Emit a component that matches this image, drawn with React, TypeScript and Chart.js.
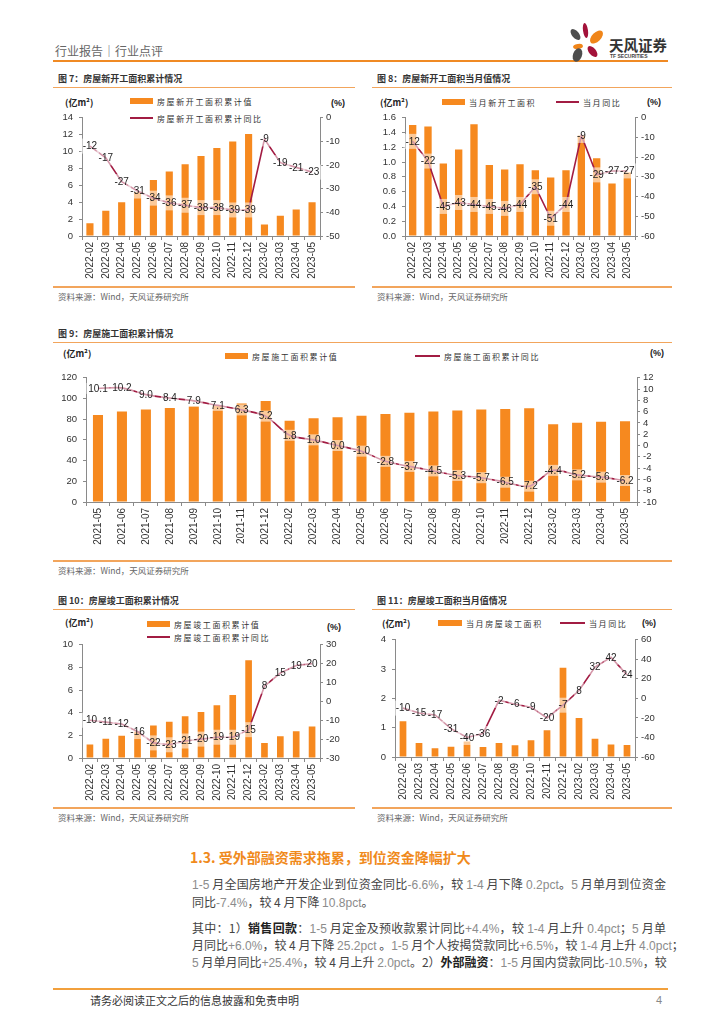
import React, { useEffect, useRef } from "react";
import { Chart, registerables } from "chart.js";

Chart.register(...registerables);

// ---------------- data ----------------
const months15 = [
  "2022-02", "2022-03", "2022-04", "2022-05", "2022-06", "2022-07", "2022-08",
  "2022-09", "2022-10", "2022-11", "2022-12", "2023-02", "2023-03", "2023-04", "2023-05",
];
const months23 = [
  "2021-05", "2021-06", "2021-07", "2021-08", "2021-09", "2021-10", "2021-11", "2021-12",
  "2022-02", "2022-03", "2022-04", "2022-05", "2022-06", "2022-07", "2022-08", "2022-09",
  "2022-10", "2022-11", "2022-12", "2023-02", "2023-03", "2023-04", "2023-05",
];

// 图7 房屋新开工面积累计
const newStartCumValue = [1.5, 2.98, 3.98, 5.18, 6.62, 7.63, 8.5, 9.47, 10.4, 11.17, 12.06, 1.36, 2.41, 3.15, 3.98];
const newStartCumYoY = [-12, -17, -27, -31, -34, -36, -37, -38, -38, -39, -39, -9, -19, -21, -23];

// 图8 房屋新开工面积当月值
const newStartMonthValue = [1.5, 1.48, 0.98, 1.17, 1.51, 0.96, 0.9, 0.97, 0.89, 0.79, 0.89, 1.36, 1.05, 0.71, 0.86];
const newStartMonthYoY = [-12, -22, -45, -43, -44, -45, -46, -44, -35, -51, -44, -9, -29, -27, -27];

// 图9 房屋施工面积累计
const underConstValue = [
  83.98, 87.33, 89.26, 90.8, 92.09, 93.48, 95.03, 97.54,
  78.37, 80.75, 81.85, 83.21, 84.86, 86.19, 87.38, 88.34, 89.18, 89.89, 90.5,
  74.95, 76.52, 77.37, 77.95,
];
const underConstYoY = [
  10.1, 10.2, 9.0, 8.4, 7.9, 7.1, 6.3, 5.2,
  1.8, 1.0, 0.0, -1.0, -2.8, -3.7, -4.5, -5.3, -5.7, -6.5, -7.2,
  -4.4, -5.2, -5.6, -6.2,
];

// 图10 房屋竣工面积累计
const completedCumValue = [1.2, 1.69, 1.97, 2.33, 2.86, 3.2, 3.69, 4.07, 4.65, 5.57, 8.62, 1.33, 1.93, 2.37, 2.77];
const completedCumYoY = [-10, -11, -12, -16, -22, -23, -21, -20, -19, -19, -15, 8, 15, 19, 20];

// 图11 房屋竣工面积当月值
const completedMonthValue = [1.22, 0.48, 0.3, 0.35, 0.53, 0.34, 0.48, 0.4, 0.57, 0.91, 3.04, 1.33, 0.62, 0.43, 0.41];
const completedMonthYoY = [-10, -15, -17, -31, -40, -36, -2, -6, -9, -20, -7, 8, 32, 42, 24];

// ---------------- style ----------------
const BAR = "#F6891F";
const LINE = "#A21C43";
const AXIS = "#8a8a8a";
const ORANGE_LINE = "#F2A55C";
const CJK = '"Noto Sans CJK SC", "Noto Sans", sans-serif';
const LAT = '"Liberation Sans", Arial, sans-serif';

type Spec = {
  left: number; top: number; width: number; height: number;
  plotLeft: number; plotRight: number; plotTop: number; plotBottom: number;
  labels: string[]; bars: number[]; line: number[];
  barName: string; lineName: string;
  yMin: number; yMax: number; yStep: number; yDec: number;
  y2Min: number; y2Max: number; y2Step: number;
  barPct: number; dec: number; tension: number;
  labelFont: number; boxH: number; padX: number;
};

const lineLabelPlugin = {
  id: "lineLabels",
  afterDatasetsDraw(chart: any, _args: any, opts: any) {
    const ctx = chart.ctx;
    chart.data.datasets.forEach((ds: any, i: number) => {
      if (ds.type !== "line") return;
      const meta = chart.getDatasetMeta(i);
      ctx.save();
      ctx.font = `${opts.fontSize}px ${LAT}`;
      ctx.textAlign = "center";
      ctx.textBaseline = "middle";
      meta.data.forEach((pt: any, j: number) => {
        const v = ds.data[j] as number;
        const txt = v.toFixed(opts.dec);
        const w = ctx.measureText(txt).width + opts.padX * 2;
        ctx.fillStyle = "rgba(255,255,255,0.55)";
        ctx.fillRect(pt.x - w / 2, pt.y - opts.boxH / 2, w, opts.boxH);
      });
      meta.data.forEach((pt: any, j: number) => {
        const v = ds.data[j] as number;
        const txt = v.toFixed(opts.dec);
        ctx.fillStyle = "#1e1e1e";
        ctx.fillText(txt, pt.x, pt.y + 0.5);
      });
      ctx.restore();
    });
  },
};

function buildConfig(s: Spec): any {
  const yW = s.plotLeft - s.left;
  const y2W = s.left + s.width - s.plotRight;
  const xH = s.top + s.height - s.plotBottom;
  const padTop = s.plotTop - s.top;
  const tickFont = { family: LAT, size: 9.5 };
  return {
    type: "bar",
    data: {
      labels: s.labels,
      datasets: [
        {
          type: "line",
          label: s.lineName,
          data: s.line,
          yAxisID: "y2",
          borderColor: LINE,
          borderWidth: 1.6,
          pointRadius: 0,
          tension: s.tension,
          order: 0,
        },
        {
          type: "bar",
          label: s.barName,
          data: s.bars,
          yAxisID: "y",
          backgroundColor: BAR,
          barPercentage: s.barPct,
          categoryPercentage: 1,
          order: 1,
        },
      ],
    },
    options: {
      responsive: false,
      animation: false,
      layout: { padding: { top: padTop, left: 0, right: 0, bottom: 0 } },
      plugins: {
        legend: { display: false },
        tooltip: { enabled: false },
        lineLabels: { dec: s.dec, fontSize: s.labelFont, boxH: s.boxH, padX: s.padX },
      },
      scales: {
        x: {
          type: "category",
          offset: true,
          grid: { offset: true, drawOnChartArea: false, drawTicks: true, tickLength: 4, color: AXIS },
          border: { display: true, color: AXIS },
          ticks: { minRotation: 90, maxRotation: 90, autoSkip: false, font: { family: LAT, size: 10 }, color: "#333", padding: 2 },
          afterFit: (sc: any) => { sc.height = xH; },
        },
        y: {
          position: "left",
          min: s.yMin,
          max: s.yMax,
          grid: { drawOnChartArea: false, drawTicks: true, tickLength: 3, color: AXIS },
          border: { display: true, color: AXIS },
          ticks: {
            stepSize: s.yStep,
            autoSkip: false,
            font: tickFont,
            color: "#333",
            padding: 6,
            callback: (v: any) => Number(v).toFixed(s.yDec),
          },
          afterFit: (sc: any) => { sc.width = yW; },
        },
        y2: {
          position: "right",
          min: s.y2Min,
          max: s.y2Max,
          grid: { drawOnChartArea: false, drawTicks: true, tickLength: 3, color: AXIS },
          border: { display: true, color: AXIS },
          ticks: {
            stepSize: s.y2Step,
            autoSkip: false,
            font: tickFont,
            color: "#333",
            padding: 3,
            callback: (v: any) => String(Math.round(Number(v))),
          },
          afterFit: (sc: any) => { sc.width = y2W; },
        },
      },
    },
    plugins: [lineLabelPlugin],
  };
}

function ChartBox({ spec }: { spec: Spec }) {
  const ref = useRef<HTMLCanvasElement>(null);
  useEffect(() => {
    const c = new Chart(ref.current as HTMLCanvasElement, buildConfig(spec));
    return () => c.destroy();
  }, []);
  return (
    <div style={{ position: "absolute", left: spec.left, top: spec.top, width: spec.width, height: spec.height }}>
      <canvas ref={ref} width={spec.width} height={spec.height} style={{ width: spec.width, height: spec.height, display: "block" }} />
    </div>
  );
}

const small = { labelFont: 10, boxH: 15, padX: 2 };

const chart7: Spec = {
  left: 50, top: 106, width: 305, height: 182,
  plotLeft: 82, plotRight: 320, plotTop: 116, plotBottom: 236,
  labels: months15, bars: newStartCumValue, line: newStartCumYoY,
  barName: "房屋新开工面积累计值", lineName: "房屋新开工面积累计同比",
  yMin: 0, yMax: 14, yStep: 2, yDec: 0, y2Min: -50, y2Max: 0, y2Step: 10,
  barPct: 0.45, dec: 0, tension: 0, ...small,
};
const chart8: Spec = {
  left: 365, top: 106, width: 305, height: 182,
  plotLeft: 405, plotRight: 635, plotTop: 117, plotBottom: 236,
  labels: months15, bars: newStartMonthValue, line: newStartMonthYoY,
  barName: "当月新开工面积", lineName: "当月同比",
  yMin: 0, yMax: 1.6, yStep: 0.2, yDec: 1, y2Min: -60, y2Max: 0, y2Step: 10,
  barPct: 0.48, dec: 0, tension: 0, ...small,
};
const chart9: Spec = {
  left: 45, top: 366, width: 620, height: 192,
  plotLeft: 86, plotRight: 637, plotTop: 376, plotBottom: 502,
  labels: months23, bars: underConstValue, line: underConstYoY,
  barName: "房屋施工面积累计值", lineName: "房屋施工面积累计同比",
  yMin: 0, yMax: 120, yStep: 20, yDec: 0, y2Min: -10, y2Max: 12, y2Step: 2,
  barPct: 0.42, dec: 1, tension: 0.3, labelFont: 10, boxH: 11, padX: 2,
};
const chart10: Spec = {
  left: 50, top: 633, width: 305, height: 172,
  plotLeft: 82, plotRight: 320, plotTop: 643, plotBottom: 758,
  labels: months15, bars: completedCumValue, line: completedCumYoY,
  barName: "房屋竣工面积累计值", lineName: "房屋竣工面积累计同比",
  yMin: 0, yMax: 10, yStep: 2, yDec: 0, y2Min: -30, y2Max: 30, y2Step: 10,
  barPct: 0.42, dec: 0, tension: 0, ...small,
};
const chart11: Spec = {
  left: 365, top: 628, width: 305, height: 177,
  plotLeft: 395, plotRight: 635, plotTop: 638, plotBottom: 757,
  labels: months15, bars: completedMonthValue, line: completedMonthYoY,
  barName: "当月房屋竣工面积", lineName: "当月同比",
  yMin: 0, yMax: 4, yStep: 1, yDec: 0, y2Min: -60, y2Max: 60, y2Step: 20,
  barPct: 0.42, dec: 0, tension: 0, ...small,
};

// ---------------- html helpers ----------------
function T({ x, cy, size, children, color = "#333", weight = 400, family = CJK, lh, style }: any) {
  const h = lh || Math.round(size * 1.4);
  return (
    <div
      style={{
        position: "absolute", left: x, top: cy - h / 2, height: h, lineHeight: `${h}px`,
        fontSize: size, color, fontWeight: weight, fontFamily: family, whiteSpace: "nowrap", ...style,
      }}
    >
      {children}
    </div>
  );
}

function HLine({ x, y, w, h = 1.5, color = ORANGE_LINE }: any) {
  return <div style={{ position: "absolute", left: x, top: y, width: w, height: h, background: color }} />;
}

function LegendItem({ x, cy, kind, text, w = 23 }: any) {
  return (
    <>
      <div
        style={{
          position: "absolute", left: x, top: kind === "bar" ? cy - 3 : cy - 1, width: w,
          height: kind === "bar" ? 6 : 2, background: kind === "bar" ? BAR : LINE,
        }}
      />
      <T x={x + w + 4} cy={cy} size={8} color="#333" style={{ letterSpacing: "1.6px" }}>{text}</T>
    </>
  );
}

function Rich({ text }: { text: string }) {
  const parts = text.split(/(\{[^}]*\}|\*[^*]*\*)/).filter((p) => p.length);
  return (
    <>
      {parts.map((p, i) => {
        if (p.startsWith("{")) return <span key={i} style={{ color: "#8c8c8c", fontFamily: LAT }}>{p.slice(1, -1)}</span>;
        if (p.startsWith("*")) return <span key={i} style={{ fontWeight: 700, color: "#222" }}>{p.slice(1, -1)}</span>;
        return <span key={i}>{p}</span>;
      })}
    </>
  );
}

function BodyLine({ cy, text, full }: any) {
  return (
    <div
      style={{
        position: "absolute", left: 192, top: cy - 9, width: 474, height: 18, lineHeight: "18px",
        fontSize: 12, fontFamily: CJK, color: "#444", whiteSpace: "nowrap",
        textAlign: full ? "justify" : "left", textAlignLast: full ? "justify" : "left",
      } as any}
    >
      <Rich text={text} />
    </div>
  );
}

const petals = [
  { cx: 585, cy: 30, w: 5, h: 15, r: -8, c: "#A3123A" },
  { cx: 596, cy: 37, w: 9, h: 16, r: 45, c: "#F08519" },
  { cx: 575, cy: 34, w: 7, h: 13, r: -40, c: "#4D4D4D" },
  { cx: 578, cy: 46, w: 10, h: 5, r: -10, c: "#F08519" },
  { cx: 592, cy: 51, w: 7, h: 13, r: -40, c: "#A3123A" },
  { cx: 577, cy: 55, w: 9, h: 14, r: 20, c: "#4D4D4D" },
];

function ChartFrame({ x, w, titleY, title, srcY, unitX, unitY, pctX, pctY }: any) {
  return (
    <>
      <T x={x + 5} cy={titleY} size={9} weight={700} color="#333">{title}</T>
      <HLine x={x} y={titleY + 8.5} w={w} />
      <T x={unitX} cy={unitY} size={9} weight={700} color="#222">(亿m²)</T>
      <T x={pctX} cy={pctY} size={9} weight={700} color="#222" family={LAT}>(%)</T>
      <HLine x={x} y={srcY} w={w} />
      <T x={x + 5} cy={srcY + 10} size={8.5} color="#666">资料来源：Wind，天风证券研究所</T>
    </>
  );
}

export default function App() {
  return (
    <div style={{ position: "absolute", left: 0, top: 0, width: 724, height: 1024, background: "#fff", overflow: "hidden" }}>
      {/* header */}
      <T x={55} cy={50} size={12} color="#666">行业报告｜行业点评</T>
      <HLine x={53} y={60} w={615} h={2} color="#F08A24" />
      {petals.map((p, i) => (
        <div
          key={i}
          style={{
            position: "absolute", left: p.cx - p.w / 2, top: p.cy - p.h / 2, width: p.w, height: p.h,
            borderRadius: "50%", background: p.c, transform: `rotate(${p.r}deg)`,
          }}
        />
      ))}
      <T x={609} cy={45} size={14.5} weight={700} color="#333">天风证券</T>
      <T x={610} cy={56} size={5} weight={700} color="#444" family={LAT}>TF SECURITIES</T>

      {/* chart 7 & 8 */}
      <ChartFrame x={53} w={302} titleY={78} title="图 7：房屋新开工面积累计情况" srcY={286} unitX={65} unitY={102} pctX={331} pctY={103} />
      <ChartFrame x={372} w={300} titleY={78} title="图 8：房屋新开工面积当月值情况" srcY={286} unitX={380} unitY={102} pctX={647} pctY={102} />
      <LegendItem x={130} cy={101} kind="bar" text="房屋新开工面积累计值" />
      <LegendItem x={130} cy={118} kind="line" text="房屋新开工面积累计同比" />
      <LegendItem x={442} cy={102} kind="bar" text="当月新开工面积" />
      <LegendItem x={556} cy={102} kind="line" text="当月同比" />
      <ChartBox spec={chart7} />
      <ChartBox spec={chart8} />

      {/* chart 9 */}
      <ChartFrame x={53} w={619} titleY={333} title="图 9：房屋施工面积累计情况" srcY={560} unitX={63} unitY={353} pctX={650} pctY={353} />
      <LegendItem x={225} cy={356} kind="bar" text="房屋施工面积累计值" />
      <LegendItem x={415} cy={356} kind="line" text="房屋施工面积累计同比" w={25} />
      <ChartBox spec={chart9} />

      {/* chart 10 & 11 */}
      <ChartFrame x={53} w={302} titleY={600} title="图 10：房屋竣工面积累计情况" srcY={807} unitX={65} unitY={622} pctX={327} pctY={627} />
      <ChartFrame x={372} w={300} titleY={600} title="图 11：房屋竣工面积当月值情况" srcY={807} unitX={382} unitY={623} pctX={642} pctY={623} />
      <LegendItem x={147} cy={624} kind="bar" text="房屋竣工面积累计值" />
      <LegendItem x={147} cy={637} kind="line" text="房屋竣工面积累计同比" />
      <LegendItem x={438} cy={623} kind="bar" text="当月房屋竣工面积" w={24} />
      <LegendItem x={560} cy={623} kind="line" text="当月同比" w={25} />
      <ChartBox spec={chart10} />
      <ChartBox spec={chart11} />

      {/* section text */}
      <T x={190} cy={857} size={14} weight={700} color="#F08A1C">1.3. 受外部融资需求拖累，到位资金降幅扩大</T>
      <BodyLine cy={884} full text="{1-5} 月全国房地产开发企业到位资金同比{-6.6%}，较 {1-4} 月下降 {0.2pct}。{5} 月单月到位资金" />
      <BodyLine cy={902} text="同比{-7.4%}，较 4 月下降 {10.8pct}。" />
      <BodyLine cy={928} full text="其中：1）*销售回款*：{1-5} 月定金及预收款累计同比{+4.4%}，较 {1-4} 月上升 {0.4pct}；{5} 月单" />
      <BodyLine cy={945} full text="月同比{+6.0%}，较 4 月下降 {25.2pct} 。{1-5} 月个人按揭贷款同比{+6.5%}，较 {1-4} 月上升 {4.0pct}；" />
      <BodyLine cy={962} full text="{5} 月单月同比{+25.4%}，较 4 月上升 {2.0pct}。2）*外部融资*：{1-5} 月国内贷款同比{-10.5%}，较" />

      {/* footer */}
      <HLine x={53} y={988} w={615} h={2} color="#F2A03C" />
      <T x={90} cy={1000} size={11} color="#333">请务必阅读正文之后的信息披露和免责申明</T>
      <T x={656} cy={1000} size={11} color="#888" family={LAT}>4</T>
    </div>
  );
}
